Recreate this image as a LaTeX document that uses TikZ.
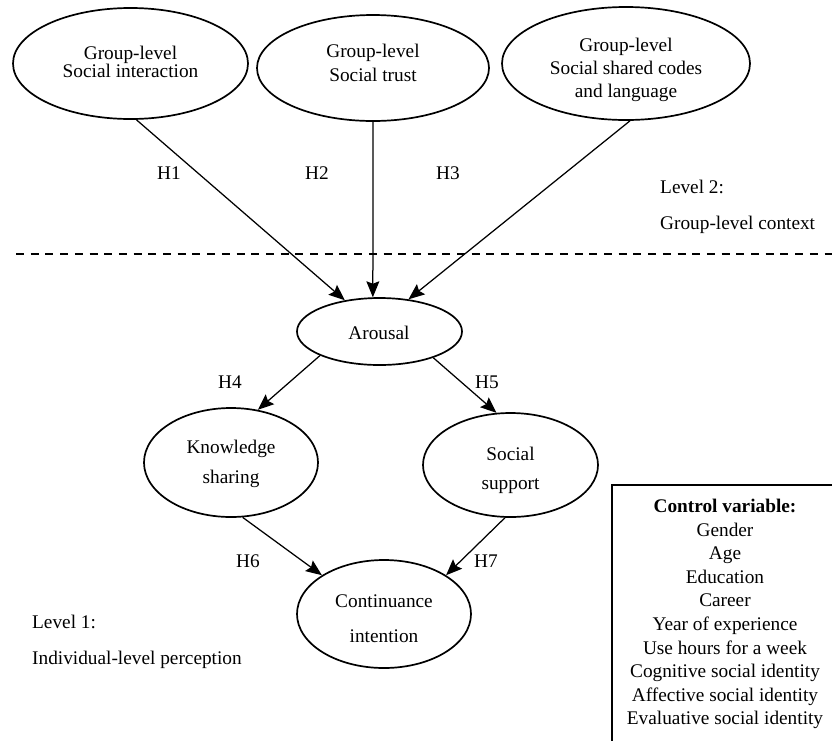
\documentclass[tikz,border=0pt]{standalone}
\usepackage{fontspec}
\setmainfont{Liberation Serif}
\usetikzlibrary{arrows.meta,shapes.geometric}
\begin{document}
\begin{tikzpicture}[x=1pt,y=-1pt,
  every node/.style={font=\fontsize{19.3}{23.3}\selectfont},
  ell/.style={draw,ellipse,line width=1.7pt,inner sep=0pt},
  etxt/.style={inner sep=0pt,align=center},
  arr/.style={line width=1.25pt,-{Stealth[length=16pt,width=13pt,inset=2.5pt]}},
  hyp/.style={inner sep=0pt},
  lvl/.style={anchor=west,inner sep=0pt},
  sep/.style={line width=1.3pt,dash pattern=on 8pt off 6.7pt}]
\clip (0,0) rectangle (832,740);
% top (group-level) constructs
\node[ell,minimum width=235pt,minimum height=111pt] (g1) at (130.5,63.5) {};
\node[etxt] (g1t) at (130.5,62) {Group-level\\[-5pt]Social interaction};
\node[ell,minimum width=232pt,minimum height=106pt] (g2) at (373,68) {};
\node[etxt] (g2t) at (373,63) {Group-level\\Social trust};
\node[ell,minimum width=248pt,minimum height=113pt] (g3) at (626,63.5) {};
\node[etxt] (g3t) at (626,70) {Group-level\\Social shared codes\\and language};
% individual-level constructs
\node[ell,minimum width=165pt,minimum height=67pt] (ar) at (379.5,331.5) {};
\node[etxt] (art) at (379,333) {Arousal};
\node[ell,minimum width=174pt,minimum height=109pt] (ks) at (231,462.5) {};
\node[etxt] (kst) at (231,464) {Knowledge\\[6pt]sharing};
\node[ell,minimum width=175pt,minimum height=104pt] (ss) at (510.5,465) {};
\node[etxt] (sst) at (510.5,470) {Social\\[6pt]support};
\node[ell,minimum width=174pt,minimum height=108pt] (ci) at (384,614) {};
\node[etxt] (cit) at (384,618.5) {Continuance\\[12pt]intention};
% connectors
\draw[arr] (g1.276.7) -- (ar.138);
\draw[arr] (g2.270) -- (ar.101);
\draw[arr] (g3.274) -- (ar.48);
\draw[arr] (ar.202) -- (ks.63);
\draw[arr] (ar.334) -- (ss.105);
\draw[arr] (ks.282) -- (ci.148);
\draw[arr] (ss.264) -- (ci.32);
% hypothesis labels
\node[hyp] (h1) at (169,173) {H1};
\node[hyp] (h2) at (317,173) {H2};
\node[hyp] (h3) at (448,173) {H3};
\node[hyp] (h4) at (230,382) {H4};
\node[hyp] (h5) at (487,382) {H5};
\node[hyp] (h6) at (248,561) {H6};
\node[hyp] (h7) at (486,561) {H7};
% level separator and labels
\draw[sep] (16,254) -- (832,254);
\node[lvl] (l2a) at (660,187) {Level 2:};
\node[lvl] (l2b) at (660,225) {Group-level context};
\node[lvl] (l1a) at (32,622) {Level 1:};
\node[lvl] (l1b) at (32,660) {Individual-level perception};
% control variables box
\node[inner sep=0pt,align=center,font=\fontsize{19.3}{23.6}\selectfont] (ctrl) at (725,614)
  {\textbf{Control variable:}\\Gender\\Age\\Education\\Career\\Year of experience\\Use hours for a week\\Cognitive social identity\\Affective social identity\\Evaluative social identity};
\draw[line width=1.5pt] (612,485) rectangle (850,760);
\end{tikzpicture}
\end{document}
